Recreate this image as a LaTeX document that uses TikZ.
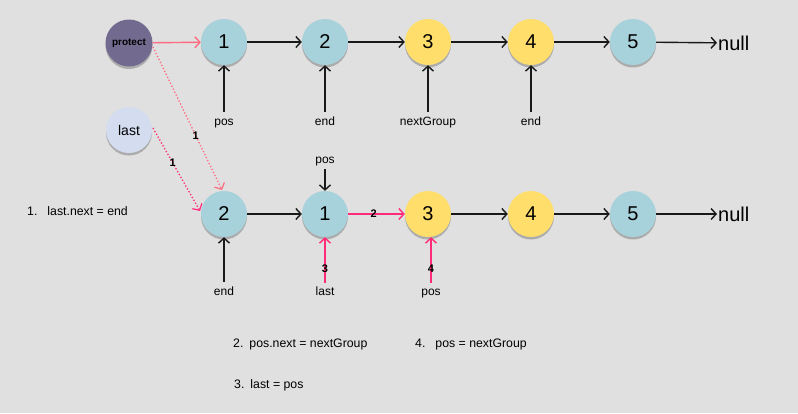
\documentclass[tikz,border=0pt]{standalone}
\usepackage{fontspec}
\setmainfont{Liberation Sans}
\usetikzlibrary{arrows.meta,shadows}
\definecolor{bg}{HTML}{E0E0E0}
\definecolor{nblue}{HTML}{A7D1DB}
\definecolor{nyellow}{HTML}{FFDE6B}
\definecolor{nprot}{HTML}{736B8F}
\definecolor{nlast}{HTML}{D4DCEF}
\definecolor{salmon}{HTML}{FF6B80}
\definecolor{hotpink}{HTML}{FF2A78}
\tikzset{
  listnode/.style={circle,minimum size=46pt,inner sep=0pt,font=\fontsize{20}{20}\selectfont,
    drop shadow={shadow xshift=0pt,shadow yshift=-2.5pt,opacity=0.35,fill=black!70}},
  bluen/.style={listnode,fill=nblue},
  yelln/.style={listnode,fill=nyellow},
  ptr/.style={font=\fontsize{12}{12}\selectfont,inner sep=0pt,text height=9pt,text depth=3pt},
  nulltxt/.style={font=\fontsize{20}{20}\selectfont,inner sep=1pt},
  link/.style={draw=black!90,line width=1.4pt,-{Straight Barb[length=5pt,width=11pt,line width=1.4pt]}},
  plink/.style={draw=hotpink,line width=1.4pt,-{Straight Barb[length=5pt,width=11pt,line width=1.4pt]}},
  num/.style={font=\bfseries\fontsize{11}{11}\selectfont,inner sep=0pt},
  note/.style={font=\fontsize{12.3}{12.3}\selectfont,anchor=west,inner sep=0pt},
}
\begin{document}
\begin{tikzpicture}[x=1pt,y=-1pt]
\fill[bg] (0,0) rectangle (798,413);
\useasboundingbox (0,0) rectangle (798,413);
% top row
\node[listnode,fill=nprot,minimum size=47pt,font=\bfseries\fontsize{10}{10}\selectfont] (prot) at (129,43) {protect};
\node[bluen] (t1) at (224,42) {1};
\node[bluen] (t2) at (325,42) {2};
\node[yelln] (t3) at (428,42) {3};
\node[yelln] (t4) at (531,42) {4};
\node[bluen] (t5) at (633,42) {5};
\node[nulltxt,anchor=west] (tnull) at (717,43) {null};
\draw[link] (t1) -- (t2);
\draw[link] (t2) -- (t3);
\draw[link] (t3) -- (t4);
\draw[link] (t4) -- (t5);
\draw[link] (t5) -- (tnull);
\draw[draw=salmon,line width=1.4pt,-{Straight Barb[length=5pt,width=11pt,line width=1.4pt]}] (prot) -- (t1);
\node[ptr] (tpos) at (224,122) {pos};
\node[ptr] (tend) at (325,122) {end};
\node[ptr] (tng) at (428,122) {nextGroup};
\node[ptr] (tend2) at (531,122) {end};
\draw[link] ([yshift=4pt]tpos.north) -- (t1);
\draw[link] ([yshift=4pt]tend.north) -- (t2);
\draw[link] ([yshift=4pt]tng.north) -- (t3);
\draw[link] ([yshift=4pt]tend2.north) -- (t4);
% last
\node[listnode,fill=nlast,font=\fontsize{14}{14}\selectfont] (last) at (129,130) {last};
% bottom row
\node[bluen] (b2) at (224,214) {2};
\node[bluen] (b1) at (325,214) {1};
\node[yelln] (b3) at (428,214) {3};
\node[yelln] (b4) at (531,214) {4};
\node[bluen] (b5) at (633,214) {5};
\node[nulltxt,anchor=west] (bnull) at (717,214) {null};
\draw[link] (b2) -- (b1);
\draw[plink] (b1) -- node[num,text=black,pos=0.45] {2} (b3);
\draw[link] (b3) -- (b4);
\draw[link] (b4) -- (b5);
\draw[link] (b5) -- (bnull);
\node[ptr] (bpos) at (325,160) {pos};
\draw[link] ([yshift=-3pt]bpos.south) -- (b1);
\node[ptr] (bend) at (224,292) {end};
\draw[link] ([yshift=4pt]bend.north) -- (b2);
\node[ptr] (blast) at (325,292) {last};
\draw[plink] ([yshift=3pt]blast.north) -- node[num,text=black,pos=0.3] {3} (b1);
\node[ptr] (bpos2) at (431,292) {pos};
\draw[plink] ([yshift=3pt]bpos2.north) -- node[num,text=black,pos=0.3] {4} (bpos2 |- b3.south);
% dotted links
\coordinate (pstart) at (153,47);
\coordinate (b2top) at (222,190);
\draw[draw=salmon,line width=1.3pt,dotted,-{Straight Barb[length=5pt,width=11pt,line width=1.2pt]}] (pstart) -- node[num,text=black,pos=0.62,xshift=0pt] {1} (b2top);
\coordinate (lstart) at (153,128);
\coordinate (b2left) at (200,211);
\draw[draw=hotpink,line width=1.3pt,dotted,-{Straight Barb[length=5pt,width=11pt,line width=1.2pt]}] (lstart) -- node[num,text=black,pos=0.42,xshift=0pt] {1} (b2left);
% notes
\node[note] (n1) at (27,211) {1.\hspace{10pt}last.next = end};
\node[note] (n2) at (233,344) {2.\hspace{6pt}pos.next = nextGroup};
\node[note] (n4) at (415,344) {4.\hspace{10pt}pos = nextGroup};
\node[note] (n3) at (234,385) {3.\hspace{6pt}last = pos};
\end{tikzpicture}
\end{document}
